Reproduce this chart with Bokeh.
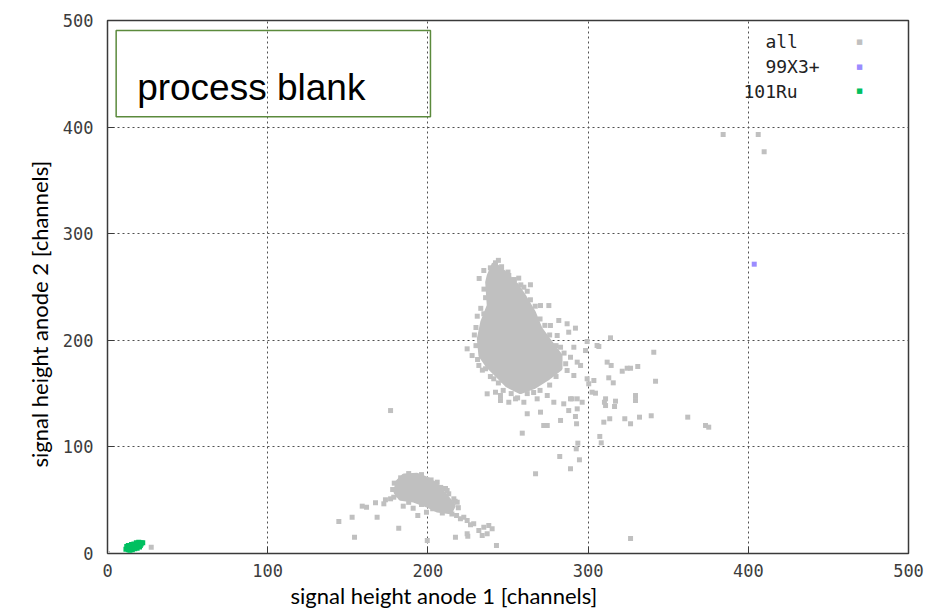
from bokeh.plotting import figure
from bokeh.models import Range1d, FixedTicker, Label, BoxAnnotation, Title
from bokeh.embed import file_html
from bokeh.resources import INLINE

# ---------------- data ----------------
x_ticks = [0, 100, 200, 300, 400, 500]
y_ticks = [0, 100, 200, 300, 400, 500]
x_title = "signal height anode 1 [channels]"
y_title = "signal height anode 2 [channels]"
series_names = ["all", "99X3+", "101Ru"]

# dense core of the main 'all' cluster (outline of the solid region)
main_core_x = [241.1, 238.0, 237.0, 238.0, 233.9, 231.8, 232.8, 237.0, 243.3, 249.5,
               257.8, 266.1, 274.5, 282.8, 282.8, 276.5, 270.3, 266.1, 259.9, 255.7,
               249.5, 245.3]
main_core_y = [271.8, 260.8, 254.5, 232.6, 216.9, 201.4, 185.7, 176.4, 167.0, 157.6,
               151.3, 156.0, 163.9, 173.3, 185.7, 198.2, 210.8, 226.4, 242.0, 251.4,
               260.8, 267.1]

# dense core of the lower 'all' cluster
low_core_x = [185.0, 193.3, 199.6, 205.8, 211.0, 216.2, 214.1, 205.8, 199.6, 191.2,
              182.9, 179.8, 180.8]
low_core_y = [73.2, 73.8, 70.1, 63.8, 54.4, 45.0, 38.7, 40.3, 45.0, 49.7,
              51.3, 57.5, 66.9]

# individual 'all' events (edges of the clusters and outliers)
all_x = [242.2, 234.9, 250.5, 256.7, 259.9, 264.0, 270.3, 275.5, 260.9, 230.8,
         234.9, 281.7, 286.9, 292.1, 276.5, 280.7, 287.9, 224.5, 227.6, 282.8,
         291.1, 299.4, 305.6, 289.0, 293.2, 295.3, 231.8, 236.0, 286.9, 291.1,
         299.4, 303.6, 241.1, 247.4, 237.0, 242.2, 245.3, 245.3, 250.5, 254.7,
         259.9, 268.2, 274.5, 278.6, 284.8, 289.0, 293.2, 262.0, 270.3, 287.9,
         293.2, 296.3, 302.5, 300.4,
         314.0, 306.7, 298.4, 341.0, 311.9, 314.4, 321.3, 324.4, 326.5, 331.0,
         342.1, 312.9, 315.7, 304.6, 310.9, 310.2, 310.9, 317.1, 316.5, 329.6,
         329.6, 290.0, 292.1, 292.8, 282.8, 272.3, 274.5, 309.8, 313.5, 322.9,
         326.5, 332.1, 339.4, 362.2, 373.3, 375.3, 307.3, 308.2, 293.6, 292.6,
         282.3, 294.6, 289.0, 258.9, 267.2, 176.7, 326.5,
         384.3, 406.2, 409.9,
         144.4, 152.7, 154.2, 159.0, 161.7, 167.3, 172.5, 168.3, 173.5, 176.7,
         178.7, 184.6, 181.8, 190.8, 193.7, 199.1, 199.6, 217.9, 220.3, 222.4,
         224.5, 226.6, 228.6, 234.9, 238.0, 240.1, 237.0, 233.9, 231.8, 217.2,
         224.5, 224.9, 242.8, 212.0, 211.0, 203.7, 205.8, 216.2, 218.3,
         27.3, 0.0,
         232.0, 235.0, 236.0, 233.0, 230.0, 229.0, 230.0, 231.0, 234.0, 239.0,
         244.0, 247.0, 252.0, 256.0, 262.0, 266.0, 270.0, 276.0, 280.0, 286.0,
         285.0, 280.0, 276.0, 273.0, 270.0, 267.0, 264.0, 262.0, 258.0, 254.0,
         250.0, 246.0, 239.0, 244.0,
         183.0, 188.0, 196.0, 202.0, 208.0, 213.0, 217.0, 219.0, 215.0, 209.0,
         203.0, 196.0, 188.0, 181.0, 178.0, 179.0]
all_y = [272.7, 265.5, 260.8, 258.3, 249.8, 252.1, 232.6, 232.6, 229.5, 222.6,
         224.9, 218.6, 215.5, 211.4, 213.9, 204.5, 207.6, 192.0, 185.7, 193.5,
         193.5, 198.9, 195.1, 184.1, 179.5, 176.4, 176.4, 173.3, 171.7, 167.0,
         163.9, 162.3, 163.9, 162.3, 149.8, 151.3, 148.2, 143.5, 141.9, 145.1,
         141.9, 145.1, 148.2, 141.9, 140.4, 145.1, 145.1, 131.1, 132.6, 134.1,
         135.7, 141.9, 151.3, 159.2,
         202.3, 194.2, 190.4, 188.8, 179.5, 176.4, 171.0, 173.8, 173.8, 175.4,
         161.6, 164.8, 160.1, 150.4, 145.1, 141.9, 138.8, 142.9, 137.9, 148.2,
         143.5, 145.1, 128.5, 121.7, 124.8, 120.1, 120.1, 123.2, 126.4, 126.4,
         121.7, 127.9, 129.2, 127.9, 120.1, 118.5, 109.8, 103.8, 103.5, 98.2,
         91.0, 87.9, 79.5, 112.9, 74.8, 134.1, 14.1,
         393.1, 393.1, 376.8,
         30.0, 34.1, 15.3, 44.4, 43.4, 47.6, 46.6, 34.1, 50.4, 51.3,
         52.8, 44.4, 23.7, 42.5, 35.6, 38.7, 12.2, 35.6, 32.6, 34.1,
         31.0, 26.9, 27.9, 24.7, 26.3, 23.2, 18.5, 16.9, 21.6, 15.3,
         18.5, 16.2, 7.5, 59.1, 61.0, 65.4, 66.9, 51.3, 48.1,
         5.9, 0.0,
         258.0, 248.0, 240.0, 230.0, 212.0, 205.0, 195.0, 182.0, 172.0, 166.0,
         160.0, 153.0, 150.0, 146.0, 150.0, 151.0, 153.0, 158.0, 166.0, 178.0,
         188.0, 195.0, 205.0, 214.0, 220.0, 232.0, 238.0, 246.0, 252.0, 257.0,
         264.0, 269.0, 268.0, 275.0,
         71.0, 75.0, 74.0, 69.0, 62.0, 56.0, 49.0, 43.0, 37.0, 38.0,
         42.0, 46.0, 48.0, 55.0, 60.0, 66.0]

# 99X3+ event
x3_x = [403.7]
x3_y = [271.4]

# 101Ru events (small green blob near the origin)
ru_x = [11.5, 12.5, 13.5, 14.0, 15.0, 16.0, 17.0, 18.0, 19.0, 20.0, 21.0, 22.0,
        13.0, 14.5, 16.0, 17.5, 19.0, 20.5, 12.0, 13.0, 15.0, 16.5, 18.0, 19.5,
        21.0, 14.0, 15.5, 17.0, 18.5, 20.0]
ru_y = [4.0, 5.0, 5.5, 6.0, 7.0, 7.5, 8.0, 8.5, 9.0, 9.5, 10.0, 10.0,
        3.5, 4.0, 5.0, 6.0, 6.5, 7.5, 6.5, 7.5, 8.5, 9.0, 10.0, 10.5,
        9.0, 3.0, 3.5, 4.5, 5.0, 6.0]

GRAY = "#c0c0c0"
BLUE = "#9b8cff"
GREEN = "#00c060"

# ---------------- figure ----------------
p = figure(width=930, height=610, output_backend="svg", toolbar_location=None,
           x_range=Range1d(0, 500), y_range=Range1d(0, 500),
           min_border_left=107, min_border_right=22, min_border_top=20,
           min_border_bottom=57)
p.background_fill_color = "white"
p.border_fill_color = "white"
p.outline_line_color = "#3a3a3a"
p.outline_line_width = 1.5

tick_font = "DejaVu Sans Mono"
for ax in (p.xaxis[0], p.yaxis[0]):
    ax.axis_line_color = None
    ax.major_tick_in = 7
    ax.major_tick_out = 0
    ax.minor_tick_line_color = None
    ax.major_tick_line_color = "#3a3a3a"
    ax.major_label_text_font = tick_font
    ax.major_label_text_font_size = "17px"
    ax.major_label_text_color = "#3c3c3c"
p.xaxis[0].ticker = FixedTicker(ticks=x_ticks)
p.yaxis[0].ticker = FixedTicker(ticks=y_ticks)
p.xaxis[0].major_label_standoff = 10
p.yaxis[0].major_label_standoff = 14

for g in (p.xgrid[0], p.ygrid[0]):
    g.ticker = FixedTicker(ticks=[100, 200, 300, 400])
    g.grid_line_color = "#505050"
    g.grid_line_dash = "2 3"
    g.grid_line_width = 1

# ---------------- axis titles (offset as in the picture) ----------------
p.add_layout(Title(text=x_title, align="left", offset=183, standoff=0,
                   text_font="Lato", text_font_size="22px", text_font_style="normal",
                   text_color="black"), "below")
p.add_layout(Title(text=y_title, align="left", offset=86, standoff=14,
                   text_font="Lato", text_font_size="22px", text_font_style="normal",
                   text_color="black"), "left")

# ---------------- data marks ----------------
p.patch(main_core_x, main_core_y, fill_color=GRAY, line_color=GRAY, line_width=4)
p.patch(low_core_x, low_core_y, fill_color=GRAY, line_color=GRAY, line_width=4)
p.scatter(all_x, all_y, marker="square", size=5, fill_color=GRAY, line_color=None)
p.scatter(x3_x, x3_y, marker="square", size=5, fill_color=BLUE, line_color=None)
p.scatter(ru_x, ru_y, marker="square", size=5, fill_color=GREEN, line_color=None)

# ---------------- legend (label left, swatch right, as in the picture) ----------------
leg_colors = [GRAY, BLUE, GREEN]
leg_text_x = [410.7, 410.7, 397.0]
leg_y = [480.3, 456.8, 433.4]
for name, col, tx, ty in zip(series_names, leg_colors, leg_text_x, leg_y):
    p.add_layout(Label(x=tx, y=ty, text=name, text_font=tick_font, text_font_size="18px",
                       text_color="#222222", text_baseline="middle", text_align="left"))
    p.add_layout(Label(x=469.4, y=ty, text="\u25a0", text_font="DejaVu Sans",
                       text_font_size="7px", text_color=col, text_baseline="middle",
                       text_align="center"))

# ---------------- process blank box ----------------
p.add_layout(BoxAnnotation(left=5.4, right=201.6, bottom=409.6, top=490.6,
                           fill_color=None, fill_alpha=0, line_color="#5b8a3c",
                           line_alpha=1.0, line_width=1.5))
p.add_layout(Label(x=18.5, y=436.8, text="process blank", text_font="Liberation Sans",
                   text_font_size="37px", text_color="black", text_baseline="alphabetic"))

open("out.html", "w").write(file_html(p, INLINE))
